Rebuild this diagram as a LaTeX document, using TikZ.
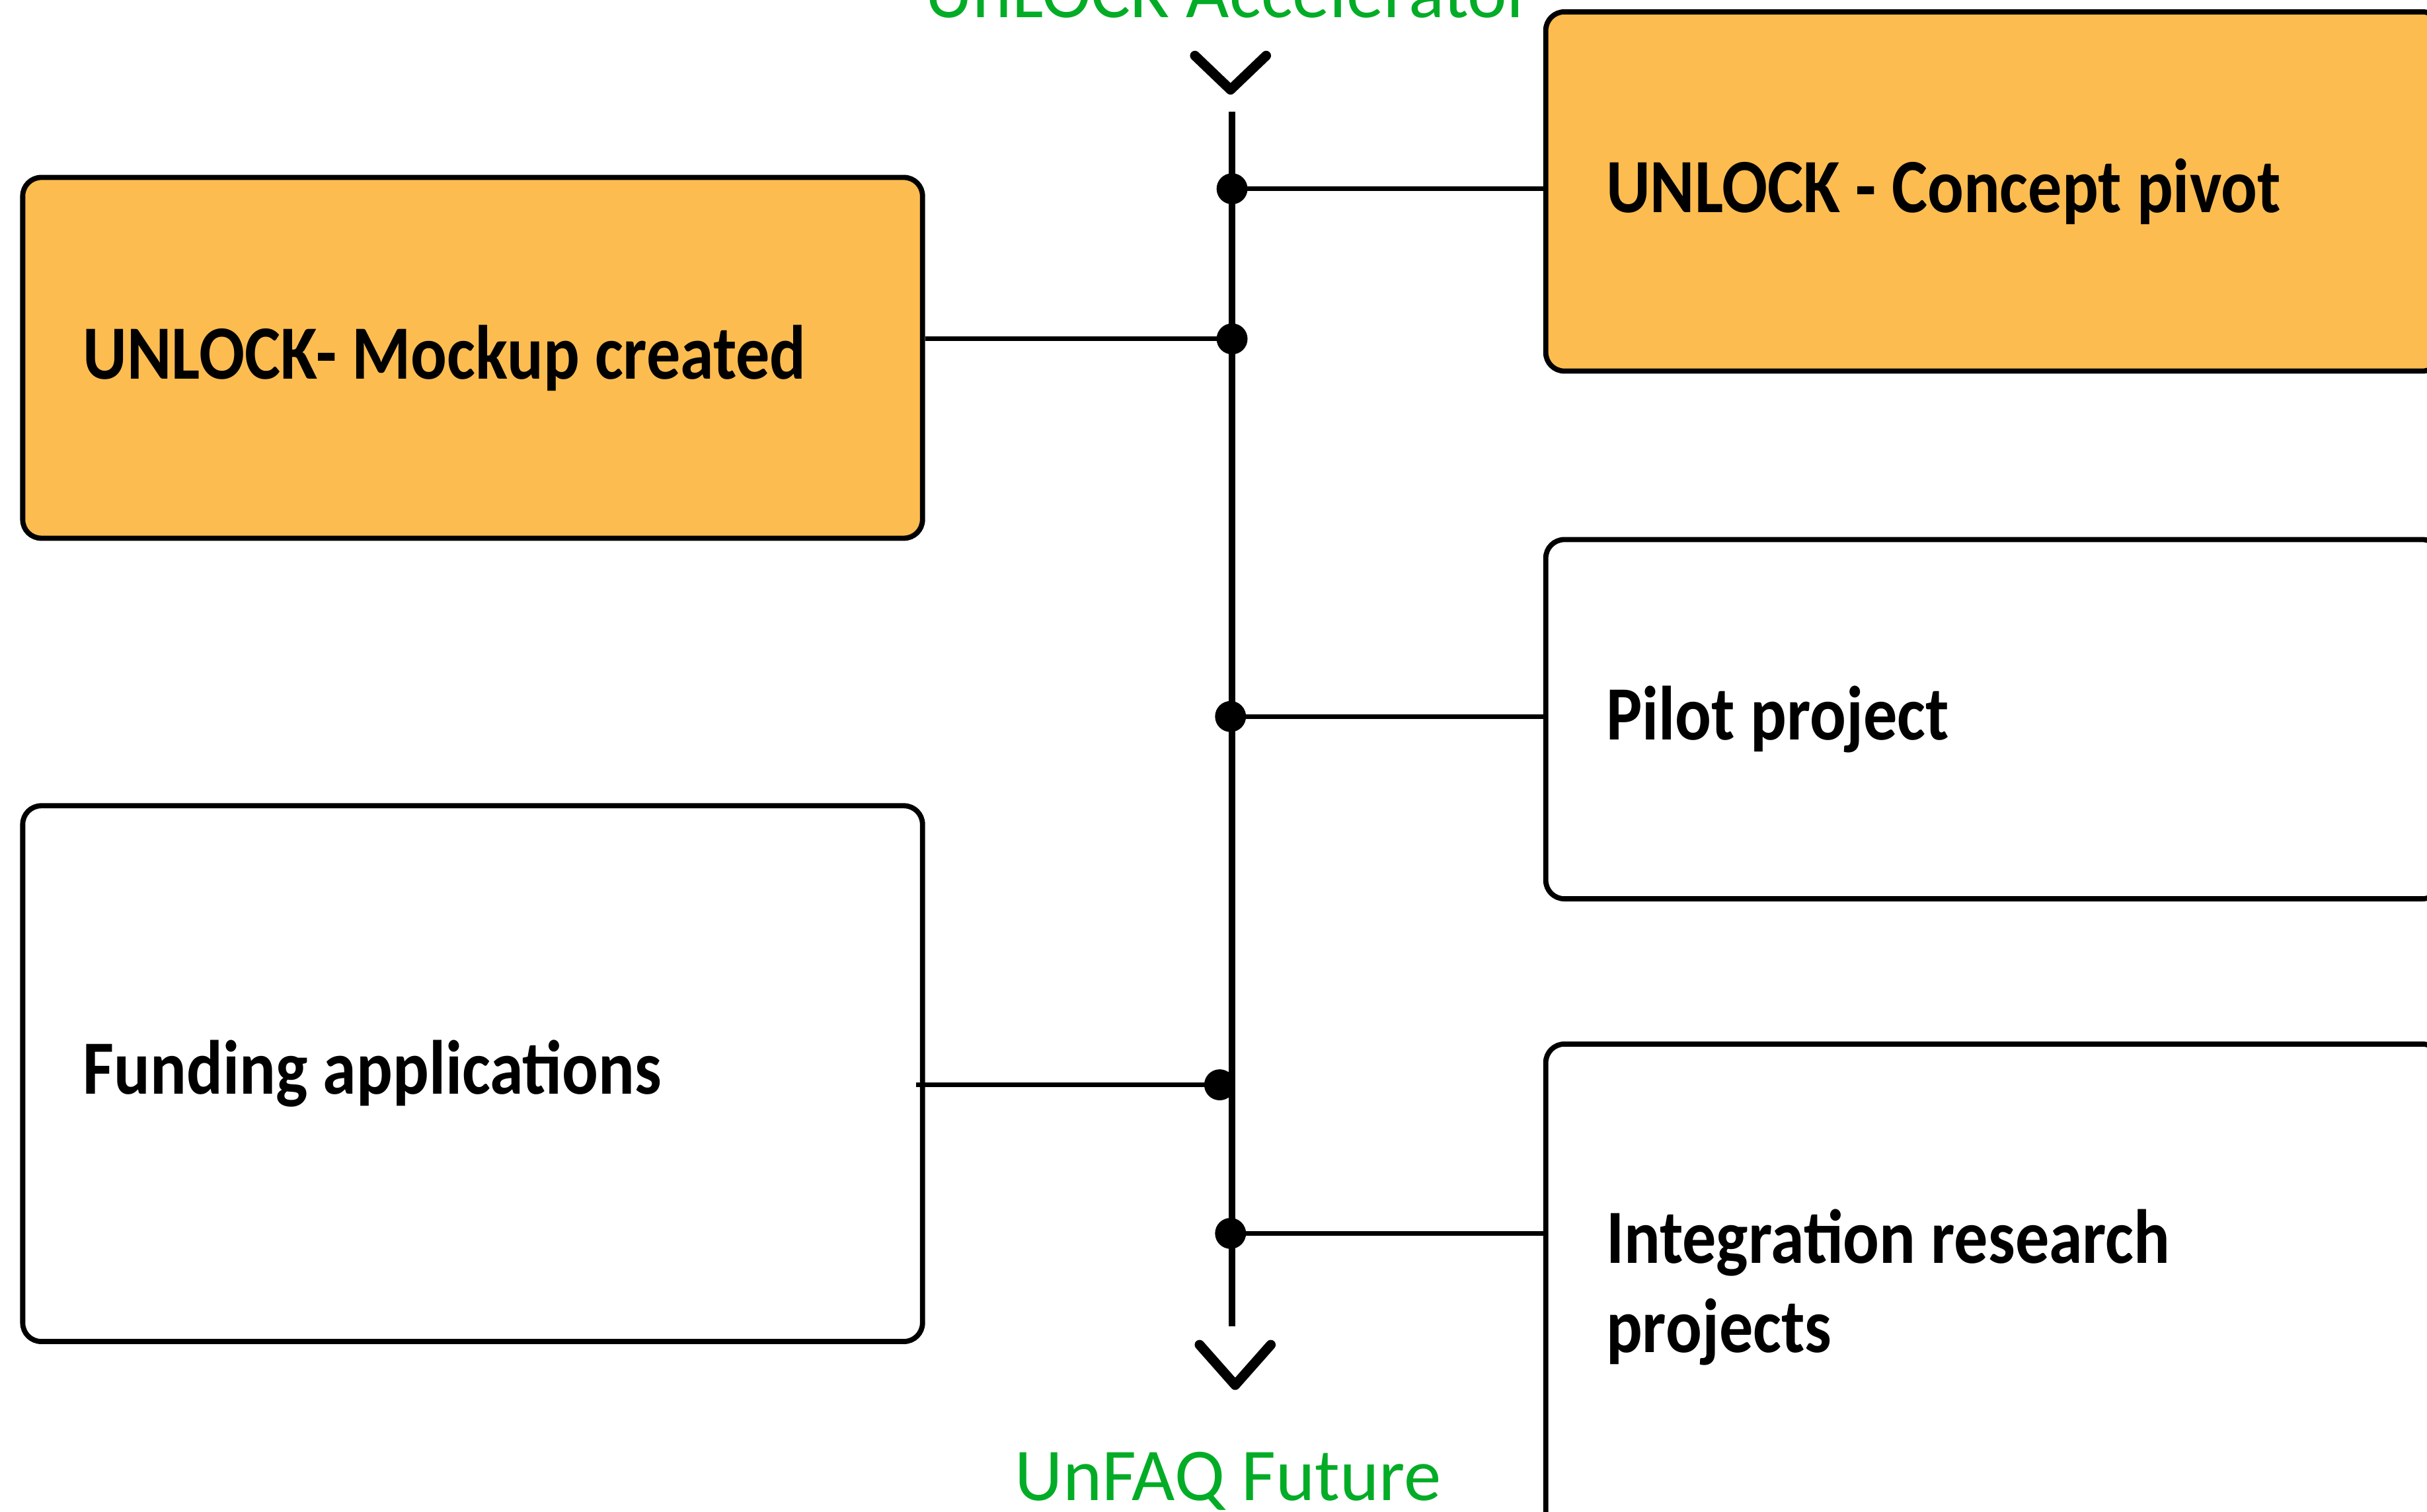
\documentclass[tikz,border=0pt]{standalone}
\usepackage{fontspec}
\setmainfont{Carlito}
\newfontfamily\eventfont{Carlito}[FakeStretch=0.88]
\definecolor{unlockorange}{RGB}{253,188,80}
\definecolor{futuregreen}{RGB}{3,172,38}
\tikzset{
  event/.style={draw, line width=0.95pt, rounded corners=0.12cm, align=flush left, anchor=north west,
    inner xsep=0.39cm, font=\eventfont\fontsize{14.1}{16.4}\selectfont\bfseries},
  done/.style={event, fill=unlockorange},
  todo/.style={event, fill=white},
  dotmark/.style={circle, fill=black, inner sep=0pt, minimum size=0.2cm},
  link/.style={line width=0.85pt},
  spine/.style={line width=1.25pt},
  chev/.style={line width=1.8pt, line cap=round, line join=round},
  endlabel/.style={text=futuregreen, anchor=base, inner sep=0pt, font=\fontsize{13.7}{16}\selectfont}
}
\begin{document}
\begin{tikzpicture}[x=0.01cm, y=-0.01cm]
\useasboundingbox (0,0) rectangle (1568,977);
% timeline
\coordinate (top) at (796,72);
\coordinate (bot) at (796,857);
\draw[spine] (top) -- (bot);
\coordinate (topv) at (795,58);
\coordinate (botv) at (798,895);
\draw[chev] ([xshift=-0.23cm,yshift=0.22cm]topv) -- (topv) -- ([xshift=0.23cm,yshift=0.22cm]topv);
\draw[chev] ([xshift=-0.23cm,yshift=0.26cm]botv) -- (botv) -- ([xshift=0.23cm,yshift=0.26cm]botv);
\node[endlabel] (start) at (794,11.5) {UnLOCK Accelerator};
\node[endlabel] (future) at (793.5,969.5) {UnFAQ Future};
% events
\node[done, text width=5.03cm, minimum height=2.33cm] (mockup) at (13,113) {UNLOCK- Mockup created};
\node[done, text width=5.00cm, minimum height=2.32cm] (pivot) at (997,6) {UNLOCK - Concept pivot};
\node[todo, text width=5.00cm, minimum height=2.32cm] (pilot) at (997,347) {Pilot project};
\node[todo, text width=5.03cm, minimum height=3.46cm] (funding) at (13,519) {Funding applications};
\node[todo, text width=5.00cm, minimum height=3.14cm] (integration) at (997,673) {Integration research\\projects};
% dots on the line
\node[dotmark] (d1) at (796,122) {};
\node[dotmark] (d2) at (796,219) {};
\node[dotmark] (d3) at (795,463) {};
\node[dotmark] (d4) at (788,701) {};
\node[dotmark] (d5) at (795,797) {};
\draw[link] (d1.center) -- (pivot.west |- d1);
\draw[link] (d2.center) -- (mockup.east |- d2);
\draw[link] (d3.center) -- (pilot.west |- d3);
\draw[link] (d4.center) -- ([xshift=-0.06cm]funding.east |- d4);
\draw[link] (d5.center) -- (integration.west |- d5);
\end{tikzpicture}
\end{document}
